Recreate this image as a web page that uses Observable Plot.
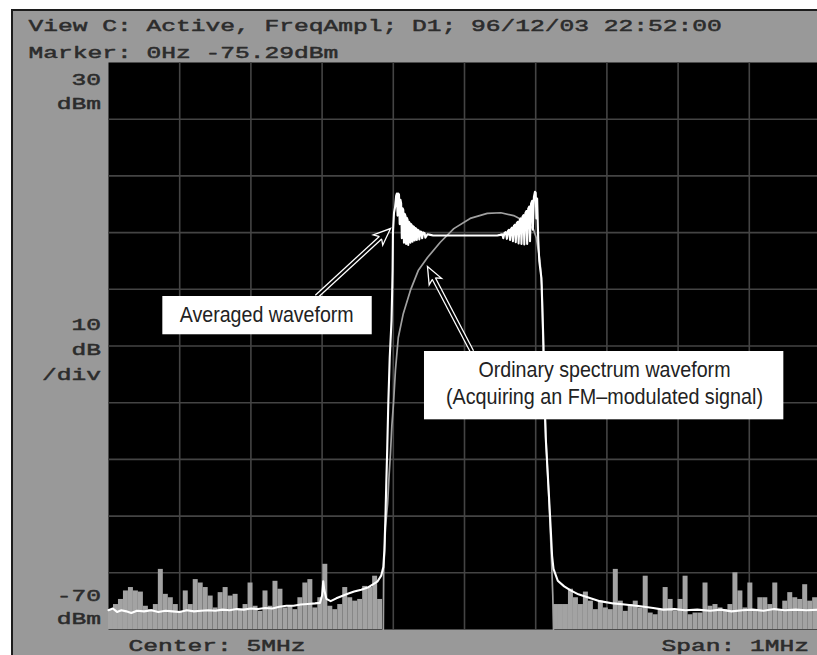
<!DOCTYPE html>
<html><head><meta charset="utf-8">
<script src="https://cdn.jsdelivr.net/npm/d3@7"></script>
<script src="https://cdn.jsdelivr.net/npm/@observablehq/plot@0.6"></script>
<style>
html,body{margin:0;padding:0;background:#fff;overflow:hidden;width:817px;height:655px;}
#panel{position:absolute;left:11px;top:9px;width:820px;height:660px;background:#999999;border-left:2px solid #1c1c1c;border-top:2px solid #1c1c1c;}
#chart{position:absolute;left:0;top:0;}
</style></head><body><div id="panel"></div><div id="chart"></div>
<script>
// ---- texts ----
const headerLines = ["View C: Active, FreqAmpl; D1; 96/12/03 22:52:00", "Marker: 0Hz -75.29dBm"];
const topLabels = ["30", "dBm"];
const midLabels = ["10", "dB", "/div"];
const bottomLabels = ["-70", "dBm"];
const centerLabel = "Center: 5MHz";
const spanLabel = "Span: 1MHz";
const avgNote = "Averaged waveform";
const ordNote = ["Ordinary spectrum waveform", "(Acquiring an FM\u2013modulated signal)"];

// ---- scales (MHz, dBm) ----
const freqDomain = [4.5, 5.5];
const dbmDomain = [-70, 30];
const gridFreq = [4.6, 4.7, 4.8, 4.9, 5.0, 5.1, 5.2, 5.3, 5.4];
const gridDbm = [-60, -50, -40, -30, -20, -10, 0, 10, 20];

// ---- averaged waveform (white) ----
const averagedFreq = [
  4.500,4.506,4.512,4.518,4.525,4.532,4.540,4.550,4.560,4.570,4.580,4.590,4.600,4.610,4.620,4.630,4.640,4.650,4.660,4.670,4.680,4.690,4.700,4.710,4.720,4.730,4.740,4.750,4.760,4.770,4.780,4.790,4.797,4.800,4.8016,4.803,4.806,4.812,4.820,4.828,4.836,4.845,4.855,4.864,4.872,4.878,4.883,4.886,4.8875,4.889,4.890,4.8915,4.893,4.895,4.8975,4.8985,4.899,4.8995,4.9010,4.9025,
  4.9040,4.9050,4.9060,4.9070,4.9080,4.9090,4.9100,4.9110,4.9120,4.9130,4.9140,4.9150,4.9160,4.9170,4.9180,4.9190,4.9200,4.9210,4.9220,4.9230,4.9240,4.9250,4.9260,4.9270,4.9280,4.9290,4.9300,4.9310,4.9320,4.9330,4.9340,4.9355,4.9365,4.9380,4.9395,4.9405,4.9420,4.9440,4.9450,4.9480,4.9520,4.9560,
  5.0460,5.0500,5.0530,5.0545,5.0560,5.0580,5.0595,5.0610,5.0625,5.0640,5.0655,5.0670,5.0680,5.0695,5.0710,5.0720,5.0735,5.0750,5.0760,5.0775,5.0790,5.0800,5.0815,5.0830,5.0840,5.0855,5.0870,5.0880,5.0895,5.0910,5.0920,5.0935,5.0950,5.0960,5.0975,5.0990,5.1000,5.1010,5.1020,
  5.1035,5.1050,5.1080,5.1090,5.1110,5.1120,5.1140,5.1180,5.1210,5.1230,5.1250,5.1310,5.1400,5.1490,5.1600,5.1770,5.1900,5.2090,5.2250,5.2470,5.2650,5.2790,5.2950,5.3100,5.3270,5.3450,5.3600,5.3750,5.3900,5.4050,5.4200,5.4350,5.4500,5.4650,5.4800,5.5000];
const averagedDbm = [
  -66.6,-66.3,-66.9,-66.6,-66.8,-67.1,-66.7,-66.8,-66.6,-66.9,-66.7,-66.8,-66.9,-66.6,-66.8,-66.7,-66.6,-66.7,-66.5,-66.6,-66.4,-66.5,-66.3,-66.4,-66.2,-66.3,-66.0,-65.8,-65.8,-65.6,-65.5,-65.4,-65.3,-64.0,-61.5,-63.0,-64.6,-65.0,-64.5,-64.1,-63.7,-63.3,-63.0,-62.6,-62.0,-61.5,-60.5,-59.0,-56.0,-50.0,-45.0,-38.0,-30.0,-22.0,-15.5,-10.0,-6.7,0.0,3.5,4.5,
  6.5,6.9,3.0,6.9,6.7,1.5,5.8,5.2,-1.0,4.3,4.0,-1.8,3.3,3.0,-2.0,2.6,2.3,-2.2,1.9,1.7,-1.8,1.5,1.3,-1.6,1.1,1.0,-1.4,0.8,0.7,-1.3,0.5,0.4,-1.2,0.2,0.1,-1.0,0.0,-0.1,-0.9,-0.3,-0.4,-0.5,
  -0.5,-0.4,-0.3,-1.0,-0.1,0.1,-1.1,0.3,0.5,-1.3,0.7,0.9,-1.5,1.2,1.4,-1.7,1.7,1.9,-1.9,2.2,2.5,-2.0,2.8,3.1,-2.1,3.4,3.8,-2.0,4.2,4.6,-1.5,5.1,5.6,0.5,6.3,7.2,7.0,2.5,6.0,
  -1.0,-5.0,-8.0,-12.0,-20.0,-28.0,-36.0,-45.0,-52.0,-57.0,-59.3,-61.4,-62.4,-63.1,-63.8,-64.5,-65.0,-65.4,-65.6,-65.9,-66.2,-66.5,-66.4,-66.6,-66.5,-66.7,-66.5,-66.8,-66.6,-66.5,-66.7,-66.4,-66.6,-66.5,-66.6,-66.5];

// ---- ordinary spectrum (gray): band trace ----
const ordinaryFreq = [4.886,4.8865,4.8876,4.889,4.892,4.894,4.896,4.898,4.9003,4.903,4.907,4.914,4.924,4.935,4.948,4.966,4.985,5.008,5.032,5.051,5.069,5.088,5.097,5.101,5.106,5.109,5.110,5.112,5.115,5.119,5.122,5.124,5.125];
const ordinaryDbm = [-70,-59.6,-56.6,-52.0,-47.8,-43.0,-39.0,-34.0,-30.1,-24.3,-18.5,-14.3,-10.2,-6.7,-4.4,-1.7,0.7,2.5,3.4,3.5,3.0,1.8,0.5,-1.0,-5.0,-10.0,-18.0,-28.0,-38.0,-48.0,-57.0,-64.0,-70];

// ---- ordinary spectrum (gray): noise floor, bins of 0.007 MHz ----
const noiseBin = 0.007;
const noiseLeftStart = 4.5;
const noiseLeftDbm = [-66.5,-65.6,-64.7,-63.2,-62.6,-63.2,-63.4,-65.9,-66.5,-65.6,-59.4,-63.8,-64.4,-65.6,-66.8,-63.2,-65.6,-61.2,-61.8,-62.6,-64.1,-66.2,-63.5,-62.6,-64.1,-63.8,-66.5,-65.6,-61.8,-65.9,-66.8,-63.2,-65.9,-61.5,-62.9,-66.2,-65.9,-66.5,-64.4,-61.8,-61.2,-66.2,-64.4,-58.5,-65.9,-66.5,-65.6,-62.6,-64.4,-65.0,-64.7,-62.4,-62.6,-60.6,-64.7];
const noiseRightStart = 5.125;
const noiseRightDbm = [-65.6,-65.6,-65.6,-62.9,-64.4,-65.6,-63.4,-65.0,-66.5,-65.0,-66.2,-66.5,-59.4,-65.0,-66.8,-65.6,-65.0,-66.2,-60.6,-67.1,-67.4,-66.5,-62.6,-64.7,-66.8,-64.7,-60.6,-67.4,-67.1,-67.1,-61.8,-65.9,-65.6,-66.2,-66.5,-65.6,-60.0,-63.2,-66.2,-61.8,-66.8,-64.4,-64.4,-65.6,-61.8,-66.5,-65.0,-63.5,-64.4,-64.7,-62.1,-65.0,-64.4];

// ---- build tables ----
const averaged = averagedFreq.map((f, i) => ({f, v: averagedDbm[i]}));
const ordinary = ordinaryFreq.map((f, i) => ({f, v: ordinaryDbm[i]}));
const noise = noiseLeftDbm.map((v, i) => ({f: noiseLeftStart + i * noiseBin, v}))
  .concat(noiseRightDbm.map((v, i) => ({f: noiseRightStart + i * noiseBin, v})));

// ---- styling ----
const monoFont = "'Liberation Mono', 'DejaVu Sans Mono', monospace";
const monoSize = 16.5;
const monoAdvance = 14.75;
const noteFont = "'Liberation Sans Narrow', 'Liberation Sans', Arial, sans-serif";
const textInk = "#2c2c2c";
const pxPerMHz = 712, pxPerDb = 5.67;

function mono(str, opts) {
  return Plot.text([str], {text: d => d, fontFamily: monoFont, fontSize: monoSize, fill: textInk, stroke: textInk, strokeWidth: 0.5, lineAnchor: "bottom", ...opts});
}

const headLen = 17;
const arrowHead = {
  draw(ctx) {
    ctx.moveTo(0, 0);
    ctx.lineTo(7, headLen);
    ctx.lineTo(2.3, headLen - 3);
    ctx.lineTo(-2.3, headLen - 3);
    ctx.lineTo(-7, headLen);
    ctx.closePath();
  }
};

function arrowMarks(tail, tip) {
  const dxp = (tip[0] - tail[0]) * pxPerMHz;
  const dyp = -(tip[1] - tail[1]) * pxPerDb;
  const len = Math.hypot(dxp, dyp);
  const angle = Math.atan2(dxp, -dyp) * 180 / Math.PI;
  const at = (k) => [tail[0] + (tip[0] - tail[0]) * k, tail[1] + (tip[1] - tail[1]) * k];
  const w = at(1 - (headLen - 3) / len), b = at(1 - (headLen - 7) / len);
  return [
    Plot.link([0], {x1: () => tail[0], y1: () => tail[1], x2: () => w[0], y2: () => w[1], stroke: "white", strokeWidth: 4.8}),
    Plot.dot([0], {x: () => tip[0], y: () => tip[1], symbol: arrowHead, rotate: angle, fill: "black", stroke: "white", strokeWidth: 1.3, r: 5}),
    Plot.link([0], {x1: () => tail[0], y1: () => tail[1], x2: () => b[0], y2: () => b[1], stroke: "black", strokeWidth: 2.2})
  ];
}

const svg = Plot.plot({
  width: 821,
  height: 655,
  marginLeft: 108,
  marginRight: 1,
  marginTop: 62,
  marginBottom: 26,
  x: {domain: freqDomain, axis: null},
  y: {domain: dbmDomain, axis: null},
  style: {background: "transparent", maxWidth: "none", overflow: "visible"},
  marks: [
    Plot.frame({fill: "black", stroke: "none"}),
    Plot.ruleX(gridFreq, {stroke: "#444", strokeWidth: 1.6}),
    Plot.ruleY(gridDbm, {stroke: "#444", strokeWidth: 1.6}),
    Plot.rect(noise, {x1: d => d.f, x2: d => d.f + noiseBin, y1: () => -70, y2: d => d.v, fill: "#a3a3a3"}),
    Plot.line(ordinary, {x: "f", y: "v", stroke: "#a0a0a0", strokeWidth: 1.7}),
    Plot.line(averaged, {x: "f", y: "v", stroke: "white", strokeWidth: 2.1}),
    ...arrowMarks([4.7921, -11.27], [4.8961, 0.72]),
    ...arrowMarks([5.0105, -20.97], [4.948, -5.98]),
    Plot.rect([0], {x1: () => 4.5763, x2: () => 4.8704, y1: () => -18.02, y2: () => -11.27, fill: "white"}),
    Plot.rect([0], {x1: () => 4.9438, x2: () => 5.4485, y1: () => -33.02, y2: () => -20.97, fill: "white"}),
    Plot.text([avgNote], {x: () => 4.7222, y: () => -15.68, text: d => d, lineAnchor: "bottom", fontFamily: noteFont, fontSize: 22, fill: "#222"}),
    Plot.text([ordNote[0]], {x: () => 5.1966, y: () => -25.5, text: d => d, lineAnchor: "bottom", fontFamily: noteFont, fontSize: 22, fill: "#222"}),
    Plot.text([ordNote[1]], {x: () => 5.1966, y: () => -30.3, text: d => d, lineAnchor: "bottom", fontFamily: noteFont, fontSize: 22, fill: "#222"}),
    mono(headerLines[0], {frameAnchor: "top-left", textAnchor: "start", dx: -80, dy: -31.3}),
    mono(headerLines[1], {frameAnchor: "top-left", textAnchor: "start", dx: -80, dy: -4.7}),
    mono(topLabels[0], {frameAnchor: "top-left", textAnchor: "end", dx: -7.5, dy: 22}),
    mono(topLabels[1], {frameAnchor: "top-left", textAnchor: "end", dx: -7.5, dy: 46}),
    mono(midLabels[0], {frameAnchor: "top-left", textAnchor: "end", dx: -7.5, dy: 267}),
    mono(midLabels[1], {frameAnchor: "top-left", textAnchor: "end", dx: -7.5, dy: 292}),
    mono(midLabels[2], {frameAnchor: "top-left", textAnchor: "end", dx: -7.5, dy: 317}),
    mono(bottomLabels[0], {frameAnchor: "bottom-left", textAnchor: "end", dx: -7.5, dy: -29}),
    mono(bottomLabels[1], {frameAnchor: "bottom-left", textAnchor: "end", dx: -7.5, dy: -6}),
    mono(centerLabel, {frameAnchor: "bottom-left", textAnchor: "start", dx: 20, dy: 21}),
    mono(spanLabel, {frameAnchor: "bottom-right", textAnchor: "end", dx: -11.5, dy: 21})
  ]
});

// stretch glyphs to the instrument's wide character cell
const monoStrings = new Set([...headerLines, ...topLabels, ...midLabels, ...bottomLabels, centerLabel, spanLabel]);
const noteWidths = new Map([[avgNote, 174], [ordNote[0], 252], [ordNote[1], 317]]);
d3.select(svg).selectAll("text").each(function () {
  const t = this.textContent;
  let w = null;
  if (noteWidths.has(t)) w = noteWidths.get(t);
  else if (monoStrings.has(t)) w = t.length * monoAdvance;
  if (w) {
    this.setAttribute("textLength", w);
    this.setAttribute("lengthAdjust", "spacingAndGlyphs");
  }
});
document.getElementById("chart").appendChild(svg);
</script>
</body></html>
